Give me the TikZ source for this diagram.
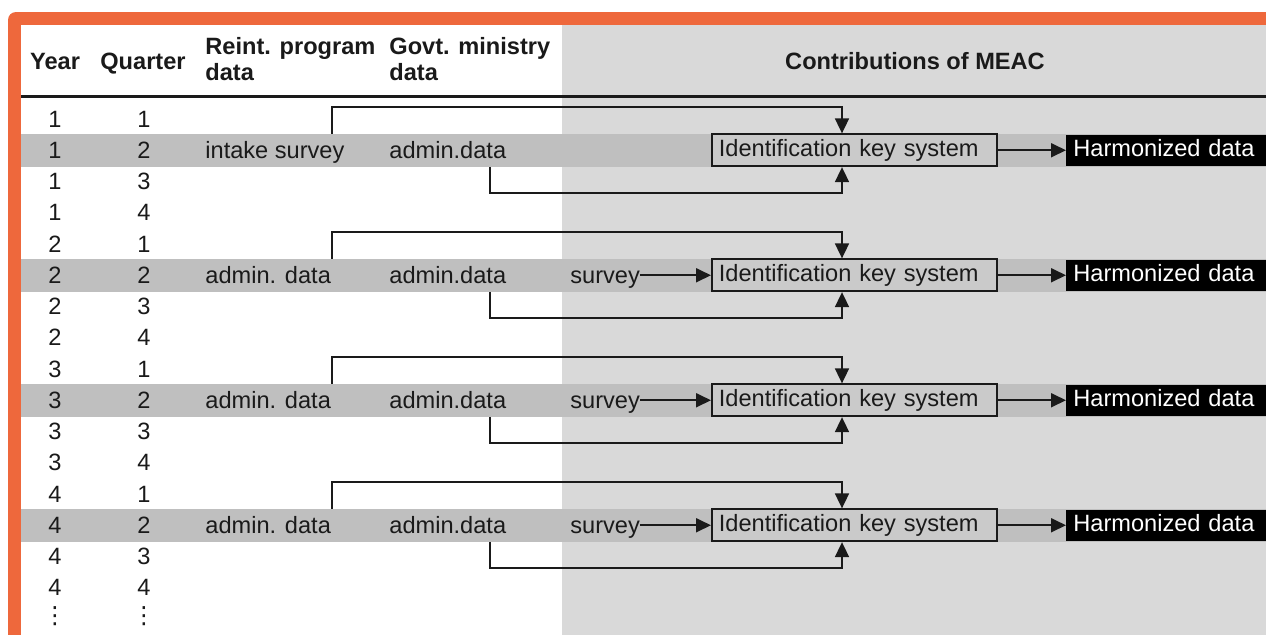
\documentclass[tikz,border=0pt]{standalone}
\usepackage{fontspec}
\setmainfont{Liberation Sans}
\newfontfamily\dotsfont{DejaVu Sans}
\usepackage{tikz}
\usetikzlibrary{arrows.meta}
\usepackage{xcolor}
\definecolor{ColFrame}{RGB}{238,104,60}
\definecolor{ColPanel}{RGB}{217,217,217}
\definecolor{ColBand}{RGB}{191,191,191}
\definecolor{ColBox}{RGB}{202,202,202}
\definecolor{ColInk}{RGB}{26,26,26}
\tikzstyle{NodeText}=[inner sep=0pt,anchor=base,text=ColInk,font={\fontsize{11.8}{13}\selectfont}]
\tikzstyle{NodeLeft}=[NodeText,anchor=base west]
\tikzstyle{NodeHead}=[NodeText,font={\fontsize{11.8}{13}\selectfont\bfseries}]
\tikzstyle{KeyBox}=[draw=ColInk,fill=ColBox,line width=0.9pt,anchor=west,text=ColInk,
font={\fontsize{11.8}{13}\selectfont},text width=135.5pt,align=left,inner xsep=3.5pt,
inner ysep=0pt,text height=9pt,text depth=2.5pt,minimum height=16pt]
\tikzstyle{HarmBox}=[fill=black,text=white,anchor=west,font={\fontsize{11.8}{13}\selectfont},
text width=110pt,align=left,inner xsep=3.5pt,inner ysep=0pt,text height=9pt,text depth=2.5pt,
minimum height=15.5pt]
\tikzstyle{EdgeArrow}=[ColInk,line width=0.9pt,-{Triangle[length=7.5pt,width=7pt]}]

\begin{document}
\begin{tikzpicture}[x=0.5pt,y=-0.5pt]
        \useasboundingbox(0,0)rectangle(1266,634);
        % frame and panels
        \fill[ColFrame](8,640)[rounded corners=4pt]--(8,12)[sharp corners]--(1270,12)--(1270,640)--cycle;
        \fill[white](21,25)rectangle(1270,640);
        \fill[ColPanel](562,25)rectangle(1270,640);
        \fill[ColBand](21,133.75)rectangle(1270,166.75);
        \fill[ColBand](21,258.75)rectangle(1270,291.75);
        \fill[ColBand](21,383.75)rectangle(1270,416.75);
        \fill[ColBand](21,508.75)rectangle(1270,541.75);
        % header
        \node[NodeHead](HYear)at(55,69){Year};
        \node[NodeHead](HQuarter)at(143,69){Quarter};
        \node[NodeHead,anchor=west,align=left](HReint)at(205,59){Reint. program\\data};
        \node[NodeHead,anchor=west,align=left](HGovt)at(389,59){Govt. ministry\\data};
        \node[NodeHead](HMeac)at(915,69){Contributions of MEAC};
        \draw[ColInk,line width=1.1pt](21,96.5)--(1270,96.5);
        % year and quarter
        \foreach \y in {1,...,4}{
          \foreach \q in {1,...,4}{
            \node[NodeText](Y\y\q)at(55,{127+31.25*(4*\y+\q-5)}){\y};
            \node[NodeText](Q\y\q)at(144,{127+31.25*(4*\y+\q-5)}){\q};
          }
        }
        \node[NodeText,anchor=center](YDots)at(55,616){\dotsfont ⋮};
        \node[NodeText,anchor=center](QDots)at(144,616){\dotsfont ⋮};
        % first year
        \node[NodeLeft](ReintA)at(205,158.25){intake survey};
        \node[NodeLeft](GovtA)at(389,158.25){admin.data};
        \node[KeyBox](KeyA)at(711,150.25){Identification key system};
        \node[HarmBox](HarmA)at(1066,150.25){Harmonized data};
        \coordinate(HubA)at(842,150.25);
        \coordinate(UpA)at(332,133.75);
        \coordinate(DownA)at(490,166.75);
        \draw[EdgeArrow](UpA)--++(0,-26.5)-|(HubA|-KeyA.north);
        \draw[EdgeArrow](DownA)--++(0,26.5)-|(HubA|-KeyA.south);
        \draw[EdgeArrow](KeyA)--(HarmA);
        % second year
        \node[NodeLeft](ReintB)at(205,283.25){admin. data};
        \node[NodeLeft](GovtB)at(389,283.25){admin.data};
        \node[NodeLeft](SurvB)at(570,283.25){survey};
        \node[KeyBox](KeyB)at(711,275.25){Identification key system};
        \node[HarmBox](HarmB)at(1066,275.25){Harmonized data};
        \coordinate(HubB)at(842,275.25);
        \coordinate(UpB)at(332,258.75);
        \coordinate(DownB)at(490,291.75);
        \draw[EdgeArrow](UpB)--++(0,-26.5)-|(HubB|-KeyB.north);
        \draw[EdgeArrow](DownB)--++(0,26.5)-|(HubB|-KeyB.south);
        \draw[EdgeArrow](SurvB.east|-KeyB.west)--(KeyB.west);
        \draw[EdgeArrow](KeyB)--(HarmB);
        % third year
        \node[NodeLeft](ReintC)at(205,408.25){admin. data};
        \node[NodeLeft](GovtC)at(389,408.25){admin.data};
        \node[NodeLeft](SurvC)at(570,408.25){survey};
        \node[KeyBox](KeyC)at(711,400.25){Identification key system};
        \node[HarmBox](HarmC)at(1066,400.25){Harmonized data};
        \coordinate(HubC)at(842,400.25);
        \coordinate(UpC)at(332,383.75);
        \coordinate(DownC)at(490,416.75);
        \draw[EdgeArrow](UpC)--++(0,-26.5)-|(HubC|-KeyC.north);
        \draw[EdgeArrow](DownC)--++(0,26.5)-|(HubC|-KeyC.south);
        \draw[EdgeArrow](SurvC.east|-KeyC.west)--(KeyC.west);
        \draw[EdgeArrow](KeyC)--(HarmC);
        % fourth year
        \node[NodeLeft](ReintD)at(205,533.25){admin. data};
        \node[NodeLeft](GovtD)at(389,533.25){admin.data};
        \node[NodeLeft](SurvD)at(570,533.25){survey};
        \node[KeyBox](KeyD)at(711,525.25){Identification key system};
        \node[HarmBox](HarmD)at(1066,525.25){Harmonized data};
        \coordinate(HubD)at(842,525.25);
        \coordinate(UpD)at(332,508.75);
        \coordinate(DownD)at(490,541.75);
        \draw[EdgeArrow](UpD)--++(0,-26.5)-|(HubD|-KeyD.north);
        \draw[EdgeArrow](DownD)--++(0,26.5)-|(HubD|-KeyD.south);
        \draw[EdgeArrow](SurvD.east|-KeyD.west)--(KeyD.west);
        \draw[EdgeArrow](KeyD)--(HarmD);
    \end{tikzpicture}
\end{document}
